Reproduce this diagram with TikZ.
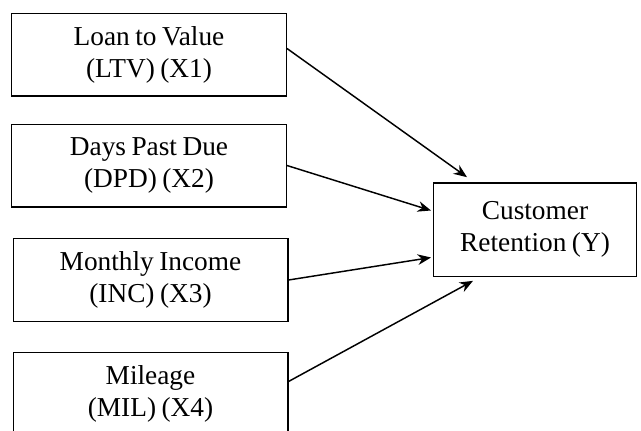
\documentclass[tikz,border=0pt]{standalone}
\usepackage{fontspec}
\setmainfont[WordSpace=0.8]{Liberation Serif}
\usetikzlibrary{arrows.meta, calc}

\begin{document}
\begin{tikzpicture}[
    x=0.75pt, y=-0.75pt, % Work in pixel units, y pointing down
    >={Stealth[length=10pt, width=8pt]}, % Set default arrow tip style
    varbox/.style={draw, line width=1pt, minimum width=206pt, minimum height=62pt,
        align=center, inner sep=0pt, font=\fontsize{20.5}{24}\selectfont}, % Style for the input boxes
    outbox/.style={varbox, minimum width=152pt, minimum height=70pt}, % Style for the result box
    link/.style={->, line width=1.1pt} % Style for the arrows
]

    % Fix the size of the picture
    \useasboundingbox (0,0) rectangle (641,430);

    % --- Input variables (left column) ---
    \node[varbox] (ltv) at (149, 54.5) {Loan to Value\\(LTV) (X1)};
    \node[varbox] (dpd) at (149, 165.5) {Days Past Due\\(DPD) (X2)};
    \node[varbox] (inc) at (150.5, 280) {Monthly Income\\(INC) (X3)};
    \node[varbox] (mil) at (150.5, 393.5) {Mileage\\(MIL) (X4)};

    % --- Result variable ---
    \node[outbox] (ret) at (535, 229.5) {Customer\\Retention (Y)};

    % --- Arrows into the result box ---
    \draw[link] ($(ltv.east)+(0,-6)$) -- ($(ret.north west)+(34,-5)$);
    \draw[link] (dpd.east) -- ($(ret.west)+(-2,-19)$);
    \draw[link] (inc.east) -- ($(ret.west)+(-2,28)$);
    \draw[link] ($(mil.east)+(0,-12)$) -- ($(ret.south west)+(40,4)$);

\end{tikzpicture}
\end{document}
